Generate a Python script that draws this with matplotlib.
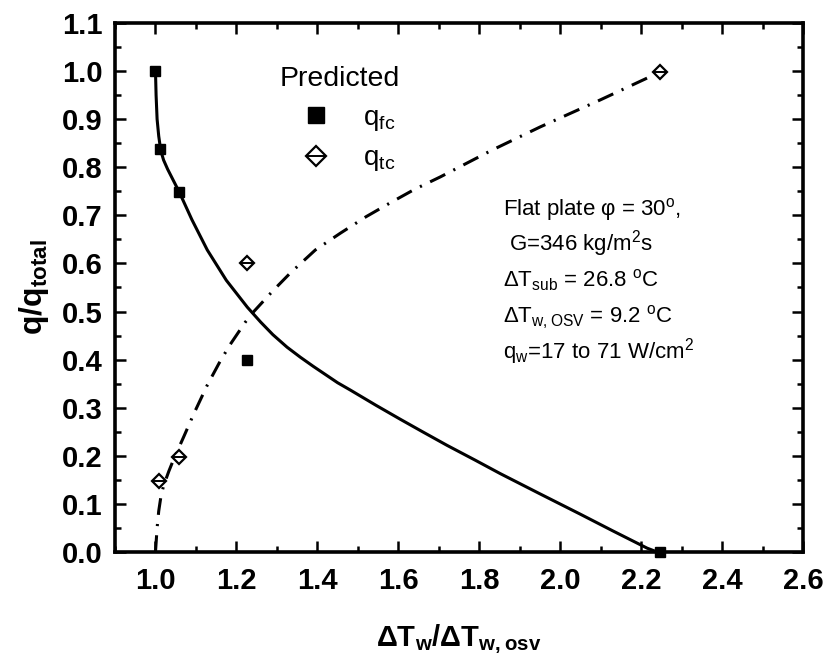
import matplotlib
matplotlib.use("Agg")
import matplotlib.pyplot as plt
from matplotlib.legend_handler import HandlerTuple
from matplotlib.ticker import MultipleLocator, FormatStrFormatter

plt.rcParams["font.family"] = ["Liberation Sans", "DejaVu Sans"]
plt.rcParams["mathtext.default"] = "regular"

# Predicted heat-flux fractions
fc_x = [1.0, 1.01, 1.059, 1.227, 2.247]
fc_y = [1.0, 0.838, 0.748, 0.399, 0.0]
tc_x = [1.008, 1.059, 1.227, 2.247]
tc_y = [0.148, 0.198, 0.60, 0.998]

# Correlation curves
fc_curve_x = [1.0, 1.0015, 1.004, 1.008, 1.013, 1.02, 1.03, 1.059, 1.09, 1.128,
              1.175, 1.227, 1.26, 1.29, 1.325, 1.358, 1.39, 1.42, 1.45, 1.481,
              1.545, 1.605, 1.66, 1.72, 1.79, 1.852, 1.95, 2.049, 2.13, 2.215,
              2.24]
fc_curve_y = [1.0, 0.95, 0.90, 0.865, 0.835, 0.815, 0.796, 0.748, 0.691, 0.628,
              0.565, 0.509, 0.478, 0.452, 0.426, 0.405, 0.386, 0.369, 0.352, 0.337,
              0.305, 0.276, 0.250, 0.222, 0.191, 0.163, 0.121, 0.079, 0.044, 0.008,
              0.0]
tc_curve_x = [1.0, 1.004, 1.008, 1.013, 1.02, 1.033, 1.045, 1.07, 1.095, 1.128,
              1.16, 1.185, 1.222, 1.243, 1.29, 1.333, 1.395, 1.457, 1.52, 1.58,
              1.64, 1.704, 1.83, 1.951, 2.099, 2.247]
tc_curve_y = [0.0, 0.05, 0.085, 0.113, 0.138, 0.168, 0.193, 0.24, 0.288, 0.347,
              0.397, 0.432, 0.478, 0.50, 0.543, 0.58, 0.628, 0.663, 0.697, 0.726,
              0.754, 0.78, 0.835, 0.884, 0.94, 0.998]

x_ticks = [1.0, 1.2, 1.4, 1.6, 1.8, 2.0, 2.2, 2.4, 2.6]
y_ticks = [0.0, 0.1, 0.2, 0.3, 0.4, 0.5, 0.6, 0.7, 0.8, 0.9, 1.0, 1.1]

info_lines = [
    "Flat plate φ = 30$^{o}$,",
    " G=346 kg/m$^{2}$s",
    "ΔT$_{sub}$ = 26.8 $^{o}$C",
    "ΔT$_{w,OSV}$ = 9.2 $^{o}$C",
    "q$_{w}$=17 to 71 W/cm$^{2}$",
]
info_y = [0.700, 0.626, 0.551, 0.476, 0.403]

fig = plt.figure(figsize=(8.31, 6.60), dpi=100)
ax = fig.add_axes([0.1384, 0.1636, 0.8279, 0.8016])

ax.plot(fc_curve_x, fc_curve_y, color="black", lw=2.2, solid_joinstyle="round")
ax.plot(tc_curve_x, tc_curve_y, color="black", lw=2.2,
        linestyle=(0, (5.5, 3.0, 0.7, 3.0)))

sq, = ax.plot(fc_x, fc_y, linestyle="none", marker="s", ms=7.5,
              color="black", clip_on=False, zorder=5)
dm, = ax.plot(tc_x, tc_y, linestyle="none", marker="D", ms=6.8,
              mfc="white", mec="black", mew=1.6, clip_on=False, zorder=5)
dl, = ax.plot(tc_x, tc_y, linestyle="none", marker="_", ms=9.5,
              color="black", mew=1.4, clip_on=False, zorder=6)

leg = ax.legend([sq, (dm, dl)], ["q$_{fc}$", "q$_{tc}$"],
                handler_map={tuple: HandlerTuple(ndivide=1)},
                title="Predicted", loc="upper left",
                bbox_to_anchor=(0.2117, 0.9545), frameon=False,
                fontsize=20, title_fontsize=20.5, handlelength=2.6,
                handletextpad=0.4, labelspacing=0.45, borderpad=0.2,
                markerscale=1.5)
leg._legend_box.align = "left"

for txt, yy in zip(info_lines, info_y):
    ax.text(1.859, yy, txt, fontsize=16, va="baseline", ha="left")

ax.set_xlim(0.9, 2.6)
ax.set_ylim(0.0, 1.1)
ax.set_xticks(x_ticks)
ax.set_yticks(y_ticks)
ax.xaxis.set_minor_locator(MultipleLocator(0.1))
ax.yaxis.set_minor_locator(MultipleLocator(0.05))
ax.xaxis.set_major_formatter(FormatStrFormatter("%.1f"))
ax.yaxis.set_major_formatter(FormatStrFormatter("%.1f"))
ax.tick_params(which="both", direction="in", top=True, right=True, width=1.8)
ax.tick_params(which="major", length=8, labelsize=21)
ax.tick_params(axis="x", which="major", pad=11)
ax.tick_params(axis="y", which="major", pad=9)
ax.tick_params(which="minor", length=4.5)
for lab in ax.get_xticklabels() + ax.get_yticklabels():
    lab.set_fontweight("bold")
for sp in ax.spines.values():
    sp.set_linewidth(2.6)

ax.set_xlabel("ΔT$_{w}$/ΔT$_{w,osv}$", fontsize=21, fontweight="bold", labelpad=20)
ax.set_ylabel("q/q$_{total}$", fontsize=23, fontweight="bold", labelpad=8)

fig.savefig("out.png", dpi=100)
